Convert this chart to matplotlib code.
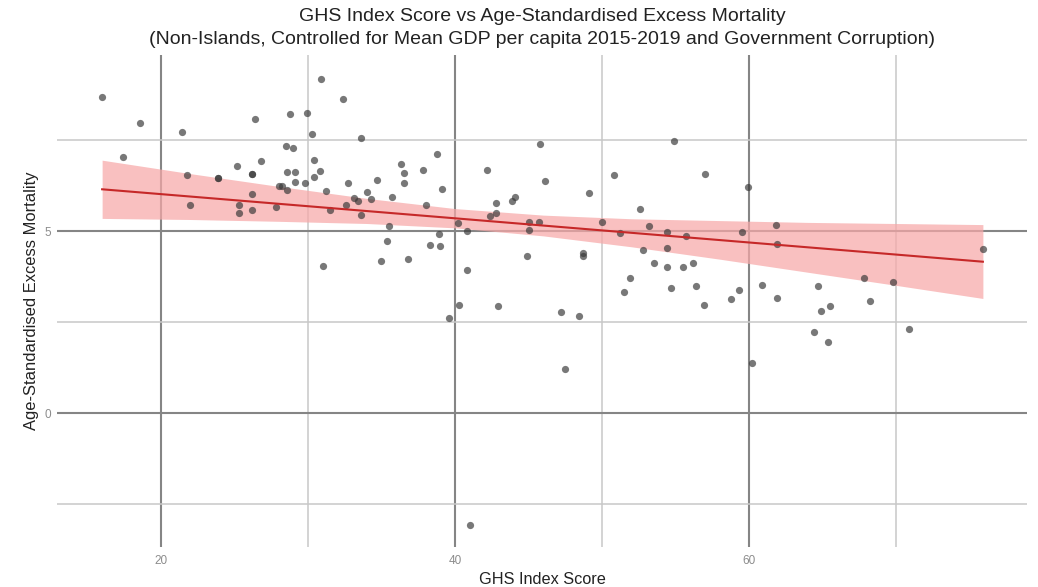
import numpy as np
import matplotlib
matplotlib.use("Agg")
import matplotlib.pyplot as plt
from matplotlib.ticker import FixedLocator

# ---- data (partial residual plot) ----
ghs_score = [
    16.0, 18.6, 21.4, 17.4, 26.4, 28.8, 29.9, 30.9, 32.4, 30.3,
    28.5, 29.0, 26.8, 25.2, 30.4, 21.8, 23.9, 23.9, 26.2, 26.2,
    28.6, 29.1, 30.8, 30.4, 29.1, 29.8, 28.0, 28.2, 28.6, 31.2,
    32.7, 26.2, 22.0, 25.3, 25.3, 26.2, 27.8, 31.5, 32.6, 31.0,
    33.6, 36.3, 36.5, 36.5, 37.8, 38.8, 39.1, 34.7, 34.0, 34.3,
    35.7, 33.1, 33.4, 33.6, 38.0, 35.5, 35.4, 38.9, 38.3, 39.0,
    35.0, 36.8, 40.2, 40.8, 40.8, 40.3, 39.6, 42.9, 42.2, 42.8,
    42.4, 42.8, 43.9, 44.1, 45.8, 46.1, 45.0, 45.7, 45.0, 44.9,
    47.2, 48.4, 48.7, 48.7, 49.1, 50.0, 50.8, 51.2, 52.6, 53.2,
    54.4, 54.4, 52.8, 53.5, 54.4, 51.9, 51.5, 54.7, 54.9, 55.5,
    56.2, 57.0, 59.9, 55.7, 59.5, 61.8, 61.9, 56.4, 56.9, 58.8,
    59.3, 60.9, 61.9, 64.7, 64.9, 65.5, 64.4, 65.4, 67.8, 68.2,
    69.8, 70.9, 75.9, 47.5, 60.2, 41.0,
]
excess_mortality = [
    8.68, 7.97, 7.72, 7.05, 8.07, 8.21, 8.26, 9.19, 8.62, 7.67,
    7.35, 7.29, 6.93, 6.78, 6.96, 6.54, 6.45, 6.45, 6.56, 6.56,
    6.63, 6.63, 6.65, 6.48, 6.36, 6.31, 6.25, 6.25, 6.12, 6.10,
    6.33, 6.01, 5.73, 5.71, 5.50, 5.57, 5.67, 5.57, 5.71, 4.03,
    7.55, 6.85, 6.59, 6.31, 6.68, 7.11, 6.17, 6.40, 6.07, 5.88,
    5.95, 5.90, 5.83, 5.44, 5.72, 5.14, 4.74, 4.91, 4.62, 4.58,
    4.19, 4.23, 5.21, 5.01, 3.92, 2.97, 2.62, 2.95, 6.67, 5.76,
    5.42, 5.49, 5.84, 5.94, 7.39, 6.37, 5.25, 5.25, 5.02, 4.33,
    2.77, 2.67, 4.39, 4.31, 6.04, 5.26, 6.54, 4.96, 5.60, 5.14,
    4.99, 4.53, 4.47, 4.13, 4.01, 3.71, 3.32, 3.43, 7.49, 4.01,
    4.12, 6.58, 6.21, 4.86, 4.97, 5.16, 4.65, 3.50, 2.96, 3.13,
    3.38, 3.53, 3.15, 3.50, 2.81, 2.93, 2.22, 1.95, 3.71, 3.07,
    3.61, 2.31, 4.51, 1.21, 1.37, -3.07,
]

# fitted (controlled) model line and its 95% band
fit_x = [16.0, 75.9]
fit_y = [6.15, 4.16]
band_x = [16.0, 22.0, 28.0, 34.0, 40.0, 46.0, 52.0, 58.0, 64.0, 70.0, 75.9]
band_lower = [5.35, 5.32, 5.27, 5.21, 5.09, 4.87, 4.57, 4.23, 3.87, 3.51, 3.15]
band_upper = [6.95, 6.58, 6.23, 5.90, 5.62, 5.44, 5.34, 5.29, 5.24, 5.21, 5.18]

x_major_ticks = [20, 40, 60]
x_minor_ticks = [30, 50, 70]
y_major_ticks = [0, 5]
y_minor_ticks = [-2.5, 2.5, 7.5]

title = ("GHS Index Score vs Age-Standardised Excess Mortality\n"
         "(Non-Islands, Controlled for Mean GDP per capita 2015-2019 and Government Corruption)")
xlabel = "GHS Index Score"
ylabel = "Age-Standardised Excess Mortality"

plt.rcParams['font.family'] = ['Liberation Sans', 'DejaVu Sans']

fig = plt.figure(figsize=(10.38, 5.87), dpi=100)
ax = fig.add_axes([0.0549, 0.0681, 0.9345, 0.8382])

ax.set_xlim(12.93, 78.9)
ax.set_ylim(-3.68, 9.84)

ax.xaxis.set_major_locator(FixedLocator(x_major_ticks))
ax.yaxis.set_major_locator(FixedLocator(y_major_ticks))
ax.xaxis.set_minor_locator(FixedLocator(x_minor_ticks))
ax.yaxis.set_minor_locator(FixedLocator(y_minor_ticks))

ax.grid(True, which='major', color='#858585', linewidth=1.5)
ax.grid(True, which='minor', color='#c8c8c8', linewidth=1.1)
ax.set_axisbelow(True)
for sp in ax.spines.values():
    sp.set_visible(False)
ax.tick_params(which='both', length=0)
ax.tick_params(axis='both', labelsize=8.5, labelcolor='#8c8c8c')
ax.tick_params(axis='x', pad=6)
ax.tick_params(axis='y', pad=4)

ax.fill_between(band_x, band_lower, band_upper, color='#f7a8a8', alpha=0.72,
                linewidth=0, zorder=2)
ax.scatter(ghs_score, excess_mortality, s=27, color='#383838', alpha=0.68,
           linewidths=0, zorder=3)
ax.plot(fit_x, fit_y, color='#c62828', linewidth=1.5, zorder=4)

ax.set_title(title, fontsize=14, color='#222222', pad=8, linespacing=1.45)
ax.set_xlabel(xlabel, fontsize=11.7, color='#222222', labelpad=3)
ax.set_ylabel(ylabel, fontsize=11.9, color='#222222', labelpad=4)

fig.savefig("out.png", dpi=100)
